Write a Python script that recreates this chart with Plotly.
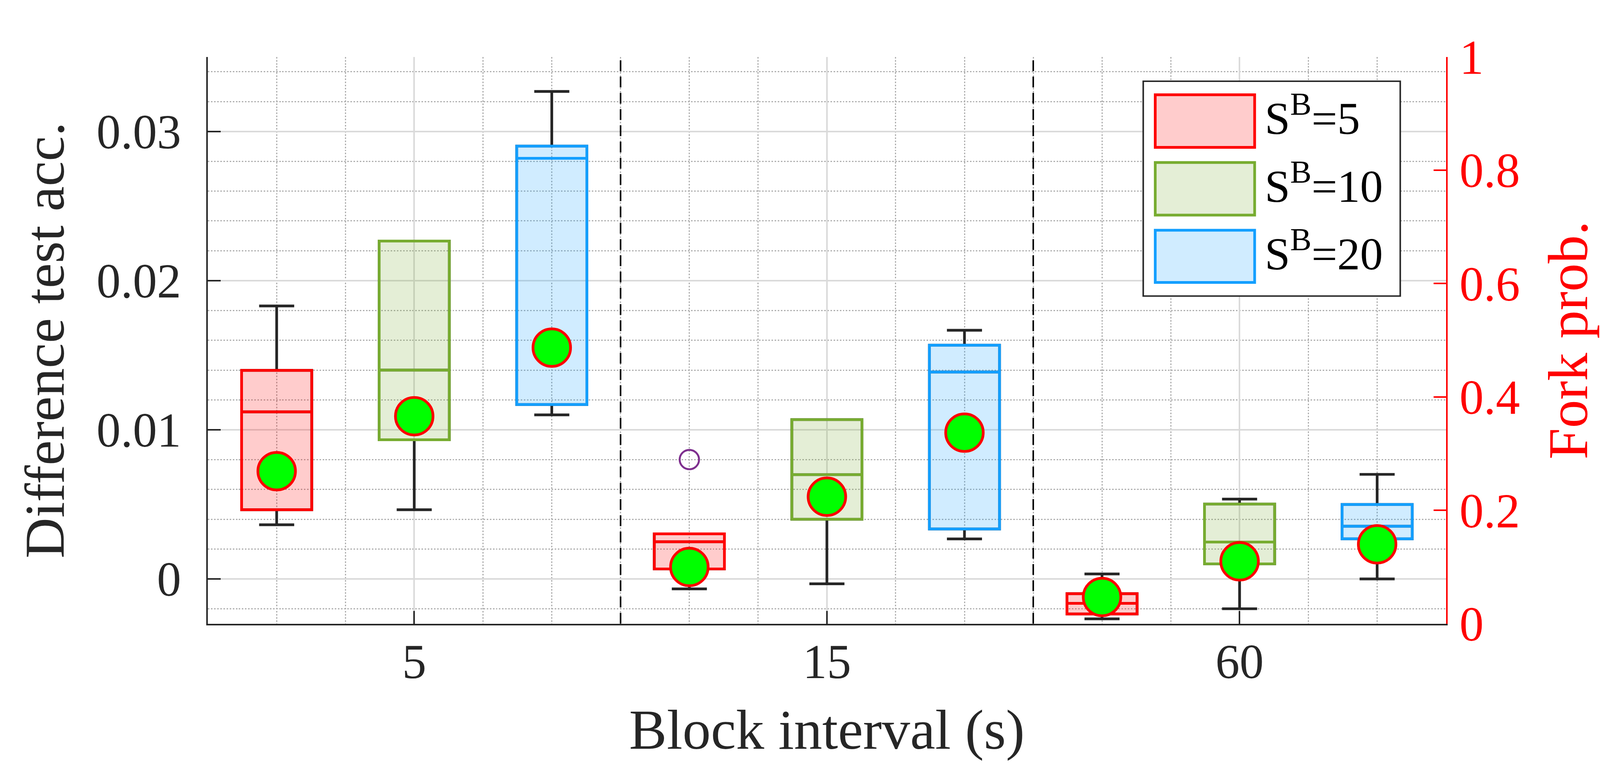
import plotly.graph_objects as go

# ---------------- data ----------------
intervals = ["5", "15", "60"]
series_labels = ["S<sup>B</sup>=5", "S<sup>B</sup>=10", "S<sup>B</sup>=20"]

q1_s5 = [0.00464, 0.00067, -0.00235]
med_s5 = [0.0112, 0.00249, -0.00164]
q3_s5 = [0.01398, 0.00302, -0.00099]
lo_s5 = [0.00363, -0.00067, -0.00268]
hi_s5 = [0.0183, 0.00302, 0.00033]

q1_s10 = [0.00933, 0.0040, 0.00101]
med_s10 = [0.0140, 0.00699, 0.00247]
q3_s10 = [0.02265, 0.01068, 0.00502]
lo_s10 = [0.00464, -0.00033, -0.0020]
hi_s10 = [0.02265, 0.01068, 0.00535]

q1_s20 = [0.01169, 0.00335, 0.00269]
med_s20 = [0.0282, 0.01387, 0.00353]
q3_s20 = [0.02902, 0.01567, 0.00499]
lo_s20 = [0.0110, 0.00268, 0.0]
hi_s20 = [0.03268, 0.01667, 0.00701]

fork_s5 = [0.269, 0.100, 0.047]
fork_s10 = [0.366, 0.224, 0.110]
fork_s20 = [0.487, 0.337, 0.140]

outlier_group = [1]       # interval index (15 s)
outlier_series = [0]      # S^B=5
outlier_value = [0.008]

# ---------------- styles ----------------
FONT = "Liberation Serif"
DARK = "#262626"
edge_colors = ["#FF0000", "#77AC30", "#139FFF"]
fill_colors = ["rgba(255,0,0,0.2)", "rgba(119,172,48,0.2)", "rgba(19,159,255,0.2)"]
swatch_fill = ["#FFCCCC", "#E4EED6", "#D0ECFF"]
offsets = [-1 / 3, 0.0, 1 / 3]
BOX_W = 0.17
FIG_W, FIG_H = 4133, 1975

stats = [
    (q1_s5, med_s5, q3_s5, lo_s5, hi_s5, fork_s5),
    (q1_s10, med_s10, q3_s10, lo_s10, hi_s10, fork_s10),
    (q1_s20, med_s20, q3_s20, lo_s20, hi_s20, fork_s20),
]

groups = list(range(len(intervals)))
fig = go.Figure()

for k, (q1, med, q3, lo, hi, fork) in enumerate(stats):
    xs = [g + offsets[k] for g in groups]
    # whiskers (black)
    fig.add_trace(go.Box(
        x=xs, q1=q1, median=med, q3=q3, lowerfence=lo, upperfence=hi,
        orientation="v", width=BOX_W, whiskerwidth=0.5, boxpoints=False,
        line=dict(color=DARK, width=7), fillcolor="rgba(0,0,0,0)",
        showlegend=False, hoverinfo="skip",
    ))
    # coloured box
    fig.add_trace(go.Box(
        x=xs, q1=q1, median=med, q3=q3, lowerfence=q1, upperfence=q3,
        orientation="v", width=BOX_W, whiskerwidth=0, boxpoints=False,
        line=dict(color=edge_colors[k], width=7), fillcolor=fill_colors[k],
        name=series_labels[k], showlegend=False,
    ))

# outliers
fig.add_trace(go.Scatter(
    x=[outlier_group[i] + offsets[outlier_series[i]] for i in range(len(outlier_value))],
    y=outlier_value, mode="markers",
    marker=dict(symbol="circle-open", size=50, color="#7E2F8E", line=dict(width=5, color="#7E2F8E")),
    showlegend=False,
))

# fork probability markers (right axis)
for k, (q1, med, q3, lo, hi, fork) in enumerate(stats):
    xs = [g + offsets[k] for g in groups]
    fig.add_trace(go.Scatter(
        x=xs, y=fork, yaxis="y2", mode="markers",
        marker=dict(size=97, color="#00FF00", line=dict(color="#FF0000", width=7)),
        showlegend=False,
    ))

# separators between interval groups
shapes = []
for g in groups[:-1]:
    shapes.append(dict(type="line", xref="x", yref="paper", x0=g + 0.5, x1=g + 0.5, y0=0, y1=1,
                       line=dict(color="black", width=4, dash="28px,14px"), layer="above"))

# manual legend (paper coordinates)
LEG_X0, LEG_X1, LEG_Y0, LEG_Y1 = 0.7555, 0.9631, 0.578, 0.957
shapes.append(dict(type="rect", xref="paper", yref="paper", x0=LEG_X0, x1=LEG_X1, y0=LEG_Y0, y1=LEG_Y1,
                   line=dict(color=DARK, width=4), fillcolor="white", layer="above"))
sw_x0, sw_x1 = 0.7652, 0.8455
sw_rows = [(0.8403, 0.9331), (0.7208, 0.8137), (0.6020, 0.6942)]
annotations = []
for k in range(3):
    y0, y1 = sw_rows[k]
    shapes.append(dict(type="rect", xref="paper", yref="paper", x0=sw_x0, x1=sw_x1, y0=y0, y1=y1,
                       line=dict(color=edge_colors[k], width=7), fillcolor=swatch_fill[k], layer="above"))
    annotations.append(dict(xref="paper", yref="paper", x=0.853, y=(y0 + y1) / 2 + 0.01,
                            xanchor="left", yanchor="middle", showarrow=False,
                            text=series_labels[k], font=dict(family=FONT, size=118, color="black")))

fig.update_layout(
    width=FIG_W, height=FIG_H,
    margin=dict(l=537, r=398, t=147, b=363, pad=0),
    plot_bgcolor="white", paper_bgcolor="white",
    font=dict(family=FONT, color=DARK),
    showlegend=False,
    shapes=shapes, annotations=annotations,
    xaxis=dict(
        range=[-0.5, 2.5], tick0=0, dtick=1,
        labelalias={str(g): intervals[g] for g in groups},
        ticks="inside", ticklen=33, tickwidth=4, tickcolor=DARK,
        showline=True, linecolor=DARK, linewidth=4, mirror=False,
        showgrid=True, gridcolor="#DADADA", gridwidth=4, zeroline=False,
        minor=dict(tick0=0, dtick=1 / 6, showgrid=True, gridcolor="#B0B0B0", gridwidth=3,
                   griddash="4px,4px", ticks=""),
        tickfont=dict(family=FONT, size=125, color=DARK), ticklabelstandoff=-13,
        title=dict(text="Block interval (s)", font=dict(family=FONT, size=146, color=DARK), standoff=55),
    ),
    yaxis=dict(
        range=[-0.003, 0.035], tick0=0, dtick=0.01,
        ticks="inside", ticklen=33, tickwidth=4, tickcolor=DARK,
        showline=True, linecolor=DARK, linewidth=4,
        showgrid=True, gridcolor="#DADADA", gridwidth=4, zeroline=False,
        minor=dict(tick0=0, dtick=0.002, showgrid=True, gridcolor="#B0B0B0", gridwidth=3,
                   griddash="4px,4px", ticks=""),
        tickfont=dict(family=FONT, size=125, color=DARK), ticklabelstandoff=40,
        title=dict(text="Difference test acc.", font=dict(family=FONT, size=146, color=DARK), standoff=36),
    ),
    yaxis2=dict(
        overlaying="y", side="right", anchor="x",
        range=[0, 1], tick0=0, dtick=0.2,
        ticks="inside", ticklen=32, tickwidth=4, tickcolor="#FF0000",
        showline=True, linecolor="#FF0000", linewidth=4,
        showgrid=False, zeroline=False,
        tickfont=dict(family=FONT, size=125, color="#FF0000"), ticklabelstandoff=6,
        title=dict(text="Fork prob.", font=dict(family=FONT, size=146, color="#FF0000"), standoff=73),
    ),
)

# remove the page margin and make the fixed-size figure fit the visible viewport
post = """
document.body.style.margin = '0px';
var s = Math.min(window.innerWidth / %d, window.innerHeight / %d);
if (s > 0 && s < 1) { document.body.style.zoom = s; }
""" % (FIG_W, FIG_H)

fig.write_html("out.html", post_script=post, config={"displayModeBar": False})
